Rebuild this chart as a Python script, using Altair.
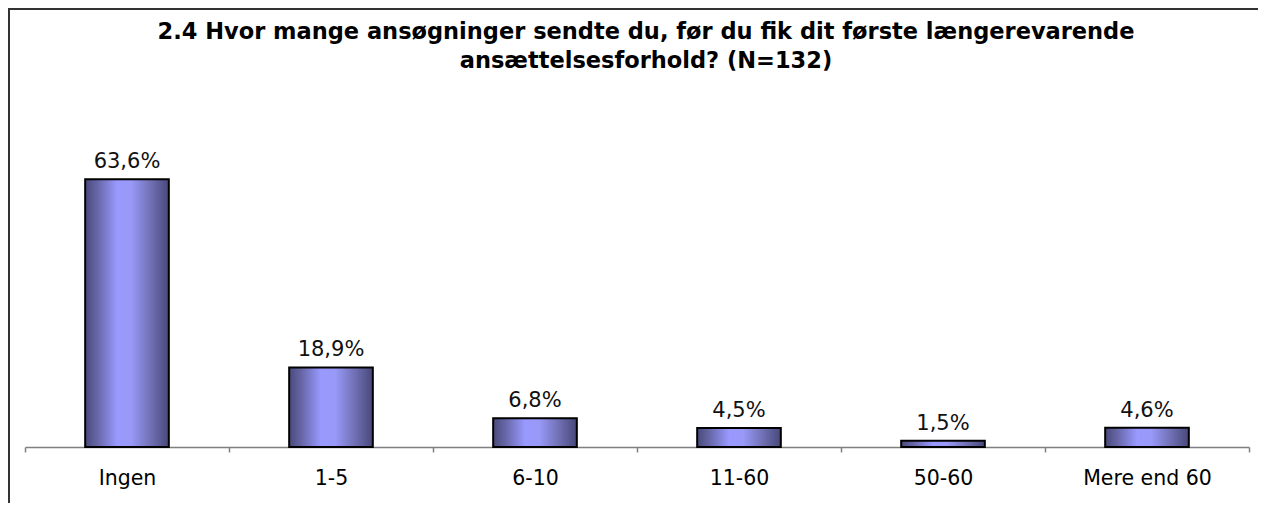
import altair as alt
import pandas as pd

categories = ["Ingen", "1-5", "6-10", "11-60", "50-60", "Mere end 60"]
values = [63.6, 18.9, 6.8, 4.5, 1.5, 4.6]
labels = ["63,6%", "18,9%", "6,8%", "4,5%", "1,5%", "4,6%"]
title_lines = [
    "2.4 Hvor mange ansøgninger sendte du, før du fik dit første længerevarende",
    "ansættelsesforhold? (N=132)",
]

df = pd.DataFrame({"cat": categories, "val": values, "lab": labels})

W, H = 1250, 495
FONT = "DejaVu Sans"

xscale = alt.Scale(domain=categories, range=[17, 1241], paddingInner=0, paddingOuter=0)
yscale = alt.Scale(domain=[0, 60], range=[439, 186.4])

grad = alt.Gradient(
    gradient="linear", x1=0, x2=1, y1=0, y2=0,
    stops=[
        alt.GradientStop(offset=0.0, color="#4a4a7c"),
        alt.GradientStop(offset=0.15, color="#6767a8"),
        alt.GradientStop(offset=0.38, color="#9999ff"),
        alt.GradientStop(offset=0.55, color="#9999f8"),
        alt.GradientStop(offset=0.8, color="#6d6db0"),
        alt.GradientStop(offset=1.0, color="#48487a"),
    ],
)

base = alt.Chart(df)

bars = base.mark_bar(
    color=grad, stroke="black", strokeWidth=2, width=alt.RelativeBandSize(0.41)
).encode(
    x=alt.X("cat:N", scale=xscale, sort=categories, title=None,
            axis=alt.Axis(
                orient="bottom", offset=-56, labelAngle=0, tickBand="extent",
                domainColor="#808080", domainWidth=1.5, tickColor="#808080",
                tickWidth=1.5, tickSize=5, labelFont=FONT, labelFontSize=20.5,
                labelColor="black", labelPadding=16, grid=False,
            )),
    y=alt.Y("val:Q", scale=yscale, axis=None),
)

text = base.mark_text(
    font=FONT, fontSize=21, color="#111111", baseline="alphabetic", dy=-11
).encode(
    x=alt.X("cat:N", scale=xscale, sort=categories),
    y=alt.Y("val:Q", scale=yscale),
    text="lab:N",
)

frame_left = base.mark_rule(color="#333333", strokeWidth=2).encode(
    x=alt.value(1), y=alt.value(0), y2=alt.value(H)
)
frame_top = base.mark_rule(color="#333333", strokeWidth=2).encode(
    x=alt.value(0), x2=alt.value(W), y=alt.value(1)
)

title_mark = alt.Chart(pd.DataFrame({"k": [0]})).mark_text(
    font=FONT, fontSize=22.5, fontWeight="bold", color="black",
    align="center", baseline="alphabetic", lineHeight=29,
).encode(
    x=alt.value(638), y=alt.value(31), text=alt.value(title_lines)
)

chart = alt.layer(frame_left, frame_top, bars, text, title_mark).properties(
    width=W, height=H,
    padding=0,
    autosize=alt.AutoSizeParams(type="none"),
).configure_view(stroke=None).configure(background="white")

chart.save("out.html", embed_options={"renderer": "svg", "actions": False})
